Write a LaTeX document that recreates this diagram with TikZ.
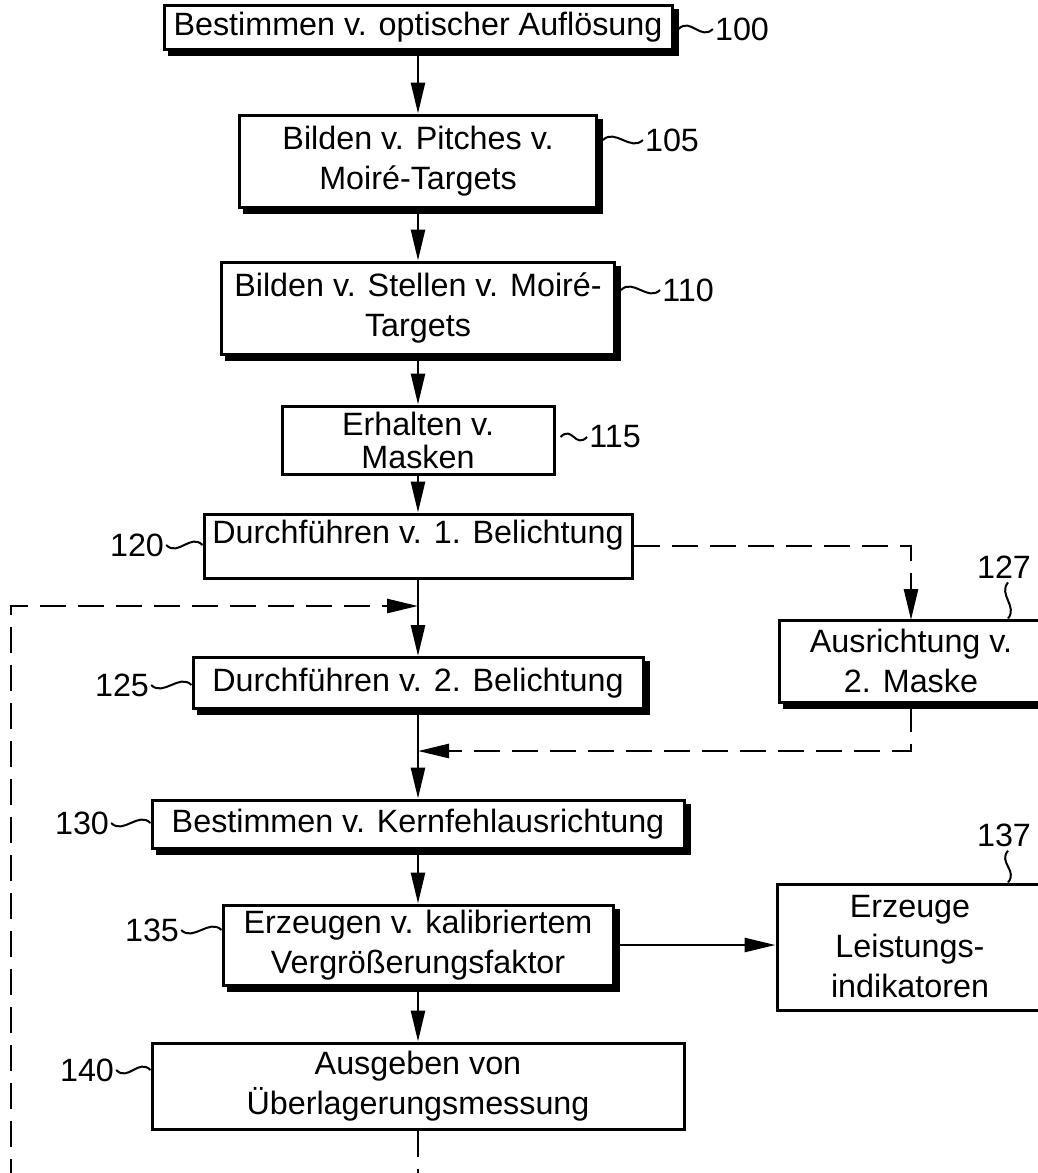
\documentclass[tikz,border=0pt]{standalone}
\usepackage{fontspec}
\setmainfont{Liberation Sans}
\usetikzlibrary{arrows.meta,calc,backgrounds}
\newcommand\fsz{\fontsize{32.3}{40}\selectfont}
\newcommand\fsy{\fontsize{32.3}{33}\selectfont}
\newcommand\shl{\hspace*{-36pt}}
\begin{document}
\begin{tikzpicture}[x=1pt,y=-1pt,
  box/.style={draw, line width=3pt, fill=white, align=center, inner sep=0pt, font=\fsz},
  conn/.style={line width=2.7pt, -{Triangle[length=31pt,width=14pt]}},
  dconn/.style={conn, dash pattern=on 26pt off 12pt},
  dline/.style={line width=2.7pt, dash pattern=on 26pt off 12pt},
  lab/.style={inner sep=0pt, font=\fsz},
  lead/.style={line width=2pt},
  shadowfill/.style={fill=black}]
\useasboundingbox (0,0) rectangle (1038,1173);

% boxes
\node[box, minimum width=508pt, minimum height=44pt] (b100) at (418,27) {Bestimmen v. optischer Auflösung};
\node[box, minimum width=357pt, minimum height=92pt] (b105) at (418,161) {Bilden v. Pitches v.\\Moiré-Targets};
\node[box, minimum width=393pt, minimum height=92pt] (b110) at (418,308) {Bilden v. Stellen v. Moiré-\\Targets};
\node[box, minimum width=272pt, minimum height=68pt, font=\fsy] (b115) at (418,440) {Erhalten v.\\Masken};
\node[box, minimum width=428pt, text height=29pt, text depth=35pt] (b120) at (418,546) {Durchführen v. 1. Belichtung};
\node[box, minimum width=450pt, minimum height=51pt] (b125) at (418,683) {Durchführen v. 2. Belichtung};
\node[box, minimum width=300pt, minimum height=82pt] (b127) at (929,661) {\shl Ausrichtung v.\\\shl 2. Maske};
\node[box, minimum width=532pt, minimum height=48pt] (b130) at (418,824) {Bestimmen v. Kernfehlausrichtung};
\node[box, minimum width=390pt, minimum height=80pt] (b135) at (418,945) {Erzeugen v. kalibriertem\\Vergrößerungsfaktor};
\node[box, minimum width=302pt, minimum height=126pt] (b137) at (928,947) {\shl Erzeuge\\\shl Leistungs-\\\shl indikatoren};
\node[box, minimum width=532pt, minimum height=86pt] (b140) at (418,1086) {Ausgeben von\\Überlagerungsmessung};

% shadows
\begin{scope}[on background layer]
\foreach \n in {b100,b105,b110,b125,b127,b130,b135}
  \fill[shadowfill] ($(\n.south west)+(5,5)$) rectangle ($(\n.north east)+(5,5)$);
\end{scope}

% connectors
\draw[conn] (b100.south) -- (b105.north);
\draw[conn] (b105.south) -- (b110.north);
\draw[conn] (b110.south) -- (b115.north);
\draw[conn] (b115.south) -- (b120.north);
\draw[conn] (b120.south) -- (b125.north);
\draw[conn] (b125.south) -- (b130.north);
\draw[conn] (b130.south) -- (b135.north);
\draw[conn] (b135.south) -- (b140.north);
\draw[conn] (b135.east) -- (b135.east -| b137.west);
\coordinate (k1) at (911,620);
\draw[dconn] (b120.east) -| (k1);
\coordinate (k2) at (911,706);
\coordinate (j1) at (418,751);
\draw[dconn] (k2) |- (j1);
\coordinate (j2) at (418,606);
\coordinate (exitL) at (11,1185);
\coordinate (exitC) at (418,1185);
\draw[dline] (b140.south) -- (exitC);
\draw[dconn] (exitL) |- (j2);

% reference labels
\node[lab] (l100) at (742,29) {100};
\node[lab] (l105) at (672,140) {105};
\node[lab] (l110) at (688,290) {110};
\node[lab] (l115) at (615,437) {115};
\node[lab] (l120) at (137,545) {120};
\node[lab] (l125) at (122,685) {125};
\node[lab] (l127) at (1004,567) {127};
\node[lab] (l130) at (82,823) {130};
\node[lab] (l135) at (152,930) {135};
\node[lab] (l137) at (1004,835) {137};
\node[lab] (l140) at (87,1070) {140};

\foreach \l/\b in {l100/b100,l105/b105,l110/b110,l115/b115}
  \draw[lead] ($(\l.west -| \b.east)+(5,0)$) .. controls +(12,-12) and +(-12,12) .. ($(\l.west)+(-2,0)$);
\foreach \l/\b in {l120/b120,l125/b125,l130/b130,l135/b135,l140/b140}
  \draw[lead] ($(\l.east)+(2,0)$) .. controls +(12,12) and +(-12,-12) .. (\l.east -| \b.west);
\foreach \l/\b in {l127/b127,l137/b137}{
  \coordinate (t\l) at ($(\l.south)+(4,4)$);
  \draw[lead] (t\l) .. controls +(-10,12) and +(10,-12) .. (t\l |- \b.north);
}
\end{tikzpicture}
\end{document}
